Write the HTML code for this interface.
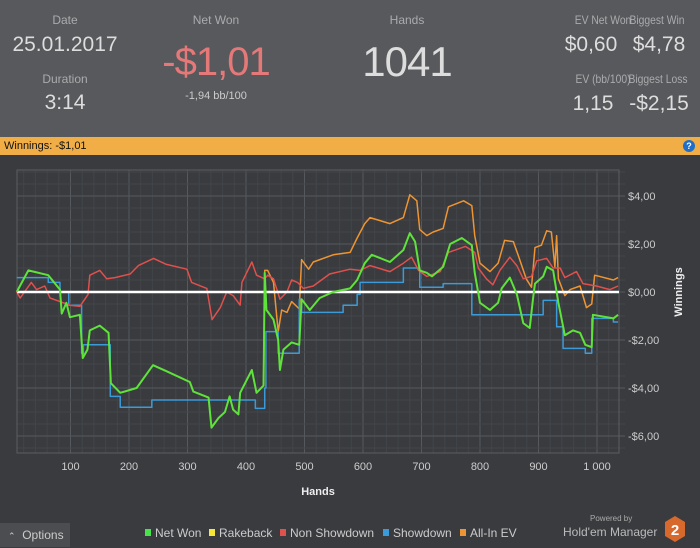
<!DOCTYPE html>
<html><head><meta charset="utf-8">
<style>
body{margin:0;width:700px;height:547px;overflow:hidden;background:#393b3f;font-family:"Liberation Sans",sans-serif;position:relative}
.hdr{position:absolute;left:0;top:0;width:700px;height:137px;background:#57595c}
.t{position:absolute;transform:translateX(-50%);white-space:nowrap;color:#bcbcbc}
.lb{font-size:12px;color:#a9abad}
.sm{font-size:12px;transform:translateX(-50%) scaleX(0.86)}
.bar{position:absolute;left:0;top:137px;width:700px;height:18px;background:#f1ae47;font-size:11px;line-height:18px;color:#111}
</style></head><body>
<div class="hdr">
 <div class="t lb" style="left:65px;top:13px">Date</div>
 <div class="t" style="left:65px;top:33px;font-size:21px;color:#ddd">25.01.2017</div>
 <div class="t lb" style="left:65px;top:72px">Duration</div>
 <div class="t" style="left:65px;top:91px;font-size:21px;color:#ddd">3:14</div>
 <div class="t lb" style="left:216px;top:13px">Net Won</div>
 <div class="t" style="left:216px;top:40px;font-size:40px;color:#e57878;letter-spacing:-1px">-$1,01</div>
 <div class="t" style="left:216px;top:90px;font-size:11px;color:#ccc">-1,94 bb/100</div>
 <div class="t lb" style="left:407px;top:13px">Hands</div>
 <div class="t" style="left:407px;top:38px;font-size:42px;color:#ddd;letter-spacing:-1px">1041</div>
 <div class="t lb sm" style="left:603px;top:13px">EV Net Won</div>
 <div class="t" style="left:591px;top:33px;font-size:21px;color:#ddd">$0,60</div>
 <div class="t lb sm" style="left:657px;top:13px">Biggest Win</div>
 <div class="t" style="left:659px;top:33px;font-size:21px;color:#ddd">$4,78</div>
 <div class="t lb sm" style="left:603px;top:72px">EV (bb/100)</div>
 <div class="t" style="left:593px;top:92px;font-size:21px;color:#ddd">1,15</div>
 <div class="t lb sm" style="left:658px;top:72px">Biggest Loss</div>
 <div class="t" style="left:659px;top:92px;font-size:21px;color:#ddd">-$2,15</div>
</div>
<div class="bar"><span style="margin-left:4px">Winnings: <b style="font-weight:normal">-$1,01</b></span>
 <div style="position:absolute;left:683px;top:3px;width:12px;height:12px;border-radius:6px;background:#1f6fc9;color:#fff;font-size:9px;line-height:12px;text-align:center;font-weight:bold">?</div>
</div>
<svg id="chart" width="700" height="547" style="position:absolute;left:0;top:0"></svg>
<div style="position:absolute;left:0;top:523px;width:70px;height:24px;background:#4b4d50;color:#ccc;font-size:12px;line-height:24px"><span style="margin-left:8px;font-size:9px">&#8963;</span>&nbsp; Options</div>
<div style="position:absolute;left:590px;top:514px;font-size:8px;color:#aaa">Powered by</div>
<div style="position:absolute;left:563px;top:525px;font-size:12px;color:#bbb">Hold'em Manager</div>
<svg style="position:absolute;left:664px;top:515px" width="22" height="28"><polygon points="11,1 21,7 21,21 11,27 1,21 1,7" fill="#d8692d"/><text x="11" y="20" text-anchor="middle" font-size="15" font-weight="bold" fill="#fff" font-family="Liberation Sans">2</text></svg>
<script>
const yTicks=[4,2,0,-2,-4,-6];
const yTickLabels=["$4,00","$2,00","$0,00","-$2,00","-$4,00","-$6,00"];
const xTicks=[100,200,300,400,500,600,700,800,900,1000];
const xTickLabels=["100","200","300","400","500","600","700","800","900","1 000"];
const netWonHands=[8,28,62,82,85,93,99,116,121,129,133,150,165,169,185,213,241,264,304,310,336,341,353,364,372,378,387,390,410,418,430,432,435,447,455,458,464,478,491,495,509,526,549,578,590,603,615,646,669,680,689,697,709,718,737,749,769,786,791,800,817,831,837,851,863,874,885,891,894,908,914,925,934,945,959,971,980,991,993,1017,1028,1036];
const netWonValues=[0,0.9,0.7,0.1,-0.9,-0.45,-1.05,-0.95,-2.75,-2.4,-1.6,-1.4,-1.7,-3.8,-4.2,-4.0,-3.05,-3.3,-3.75,-4.15,-4.4,-5.65,-5.25,-5.0,-4.35,-4.9,-5.1,-4.2,-3.25,-4.2,-3.9,0.8,-0.75,-1.15,-2.0,-3.25,-2.4,-2.1,-2.2,-0.3,-0.75,-0.25,0,0.15,0.5,1.2,1.55,1.25,1.75,2.45,2.1,0.9,0.8,0.65,1.05,2.0,2.25,1.95,0.8,-0.45,-0.75,-0.45,0.15,0.6,-0.1,-1.3,-1.5,-0.2,0.35,0.65,1.05,0.9,-0.45,-1.8,-1.6,-1.7,-2.2,-2.3,-0.95,-1.05,-1.1,-0.95];
const showdownHands=[8,62,82,97,119,122,168,185,239,416,432,434,455,491,495,509,566,590,595,603,669,697,737,786,908,931,942,980,991,1028,1036];
const showdownValues=[0.6,0.4,0,-0.55,-2.55,-2.2,-4.35,-4.8,-4.5,-4.85,-4.0,-1.65,-2.55,-0.3,-0.85,-0.85,-0.55,-0.1,0.4,0.4,1.0,0.2,0.35,-0.95,-0.35,-1.45,-2.35,-2.55,-1.1,-1.25,-1.25];
const nonShowdownHands=[8,14,33,42,56,65,82,99,116,130,133,150,162,176,202,216,242,264,299,307,333,342,356,367,378,390,393,410,418,432,437,447,458,470,478,488,498,515,543,578,595,612,646,669,683,695,709,732,746,775,791,797,811,822,834,851,863,874,888,897,914,925,937,945,965,976,999,1022,1036];
const nonShowdownValues=[0,-0.25,0.4,0.1,0.25,-0.25,-0.4,-0.55,-0.6,-0.1,0.7,0.9,0.55,0.6,0.75,1.1,1.4,1.15,0.95,0.4,0.15,-1.15,-0.65,0,-0.15,-0.55,0.4,1.25,0.7,0.55,0.7,0.55,-0.3,0,0.5,0.4,0.15,0.25,0.75,0.95,0.9,1.1,0.85,1.2,1.45,0.9,0.65,0.85,1.65,1.9,1.65,1.0,0.55,0.3,0.9,1.45,1.1,0.55,0.65,1.3,1.4,1.0,1.0,0.6,0.85,0.35,0.25,0.1,0.25];
const allInEvHands=[430,432,437,447,455,461,470,478,491,495,507,515,549,578,590,603,612,646,669,680,692,697,709,720,737,746,772,786,791,800,817,831,842,857,865,879,888,894,905,914,922,928,931,934,945,954,971,982,991,996,1028,1036];
const allInEvValues=[-3.9,0.9,0.9,0.4,-1.65,-0.75,-0.85,-0.4,-0.7,1.35,0.95,1.25,1.55,1.65,2.25,2.85,3.1,2.85,3.1,4.05,3.8,2.6,2.35,2.5,2.65,3.55,3.8,3.6,2.35,1.2,0.85,1.2,2.15,2.1,1.55,0.55,0.2,1.85,1.95,2.55,2.5,1.05,2.35,0.55,-0.15,0.1,0.25,-0.65,-0.5,0.7,0.5,0.6];

const NS='http://www.w3.org/2000/svg';
const svg=document.getElementById('chart');
const L=17,R=619,T=170,B=453;
const xs=h=>12+0.585*h;
const ys=v=>292-24*v;
function mk(tag,attrs,parent){const e=document.createElementNS(NS,tag);for(const k in attrs)e.setAttribute(k,attrs[k]);(parent||svg).appendChild(e);return e;}
const grid=mk('g',{});


for(let h=20;h<=1040;h+=20){const x=xs(h);if(x<=L||x>=R)continue;const g=mk('line',{x1:x,x2:x,y1:T,y2:B,stroke:h%100===0?'#55585c':'#424549','stroke-width':1},grid);}
for(let v=-6.5;v<=5;v+=0.5){const y=ys(v);if(y<=T||y>=B)continue;const g=mk('line',{x1:L,x2:R+6,y1:y,y2:y,stroke:Math.abs(v%2)<1e-9?'#55585c':'#424549','stroke-width':1},grid);}
const frame=mk('rect',{x:L,y:T,width:R-L,height:B-T,fill:'none',stroke:'#5b5e62'});


yTicks.forEach((v,i)=>{const t=mk('text',{x:628,y:ys(v)+4,fill:'#ccc','font-size':11,'font-family':'Liberation Sans'});t.textContent=yTickLabels[i];});
xTicks.forEach((h,i)=>{const t=mk('text',{x:xs(h),y:470,fill:'#ccc','font-size':11,'text-anchor':'middle','font-family':'Liberation Sans'});t.textContent=xTickLabels[i];});
const xt=mk('text',{x:318,y:495,fill:'#eee','font-size':11,'font-weight':'bold','text-anchor':'middle','font-family':'Liberation Sans'});xt.textContent='Hands';


const yt=mk('text',{x:0,y:0,fill:'#eee','font-size':11,'font-weight':'bold','text-anchor':'middle','font-family':'Liberation Sans',transform:'translate(682,292) rotate(-90)'});yt.textContent='Winnings';


function line(hs,vs,color,step,name){let d='';hs.forEach((h,i)=>{const x=xs(h),y=ys(vs[i]);if(i===0)d+='M'+x+','+y;else if(step)d+='H'+x+'V'+y;else d+='L'+x+','+y;});const p=mk('path',{d:d,fill:'none',stroke:color,'stroke-width':name==='net-won-line'?2:1.5,'stroke-linejoin':'round'});}
line(allInEvHands,allInEvValues,'#ef9432',false,'all-in-ev-line');
line(showdownHands,showdownValues,'#3b9ad8',true,'showdown-line');
line(nonShowdownHands,nonShowdownValues,'#e0504d',false,'non-showdown-line');
const z=mk('line',{x1:L,x2:R,y1:ys(0),y2:ys(0),stroke:'#fff','stroke-width':2.5});


line(netWonHands,netWonValues,'#5ee33a',false,'net-won-line');
const legend=[['Net Won','#44e44a',145],['Rakeback','#f5e63a',209],['Non Showdown','#e0504d',280],['Showdown','#3b9ad8',383],['All-In EV','#ef9432',460]];
legend.forEach(([n,c,x])=>{const g=mk('g',{});mk('rect',{x:x,y:529,width:6,height:7,fill:c},g);const t=mk('text',{x:x+10,y:537,fill:'#ccc','font-size':12,'font-family':'Liberation Sans'},g);t.textContent=n;});
</script>
</body></html>
